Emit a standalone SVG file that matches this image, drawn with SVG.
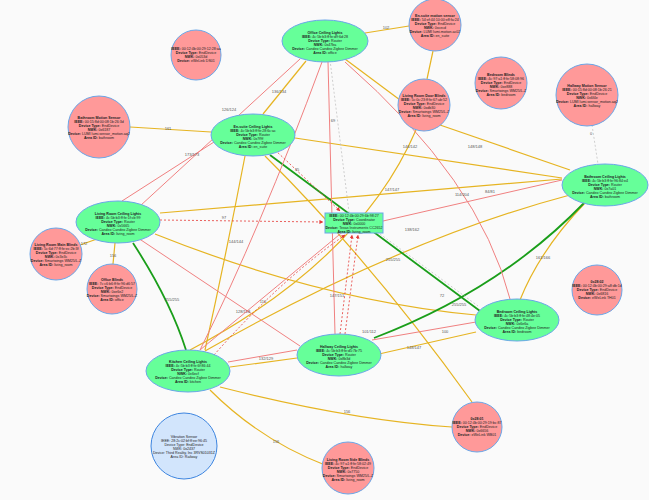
<svg xmlns="http://www.w3.org/2000/svg" width="649" height="500" viewBox="0 0 649 500">
<defs>
<marker id="ar" viewBox="0 0 10 10" refX="9" refY="5" markerWidth="5" markerHeight="5" orient="auto"><path d="M0,0L10,5L0,10z" fill="#e53935"/></marker>
<style>
text{font-family:"Liberation Sans",Arial,sans-serif;font-size:3.6px;fill:#222;text-anchor:middle}
.b{font-weight:bold}
.r ellipse,.r rect{fill:#66ff99;stroke:#6aa6e8;stroke-width:1}
.e circle{fill:#ff9999;stroke:#6aa6e8;stroke-width:1}
.v circle{fill:#d2e5fc;stroke:#3d85e0;stroke-width:1}
.y{stroke:#e6b422;stroke-width:1.2;fill:none}
.g{stroke:#1a9e1a;stroke-width:1.8;fill:none}
.p{stroke:#f08080;stroke-width:1;fill:none}
.d{stroke:#e53935;stroke-width:0.8;stroke-dasharray:2,2;fill:none;marker-end:url(#ar)}
.s{stroke:#bbb;stroke-width:0.7;stroke-dasharray:2,2;fill:none}
.l{font-size:4px;fill:#555}
</style>
</defs>
<rect width="649" height="500" fill="#fafafa"/>
<g id="connectors">
<path class="y" d="M365,33 L409,26"/><text class="l" x="386" y="29">102</text>
<path class="y" d="M306,61 L263,114"/><text class="l" x="279" y="93">136/134</text>
<path class="y" d="M345,59 L400,100"/>
<path class="y" d="M433,51 L427,79"/>
<path class="y" d="M440,125 L570,170"/><text class="l" x="475" y="148">148/148</text>
<path class="y" d="M416,130 Q360,260 190,350"/>
<path class="y" d="M130,127 L211,132"/><text class="l" x="168" y="130">161</text>
<path class="y" d="M295,138 L562,178"/><text class="l" x="410" y="148">146/142</text>
<path class="y" d="M160,213 L562,179"/><text class="l" x="392" y="191">147/147</text>
<path class="y" d="M155,234 Q320,300 476,315"/>
<path class="y" d="M97,239 L80,245"/><text class="l" x="84" y="245">172</text>
<path class="y" d="M115,243 L113,264"/><text class="l" x="113" y="257">156</text>
<path class="y" d="M245,156 Q225,260 205,350"/><text class="l" x="236" y="243">144/144</text>
<path class="y" d="M265,156 Q370,260 472,402"/><text class="l" x="445" y="333">100</text>
<path class="y" d="M205,351 Q400,240 570,195"/><text class="l" x="412" y="231">138/162</text>
<path class="y" d="M230,367 L297,358"/><text class="l" x="266" y="360">132/129</text>
<path class="y" d="M220,387 Q350,420 452,427"/><text class="l" x="347" y="413">156</text>
<path class="y" d="M210,390 Q260,440 325,465"/><text class="l" x="276" y="443">156</text>
<path class="y" d="M379,354 L476,332"/><text class="l" x="414" y="349">148/147</text>
<path class="y" d="M520,300 Q540,250 585,203"/><text class="l" x="543" y="259">161/166</text>
<path class="s" d="M592,125 L598,164"/><text class="l" x="591" y="135">0</text>
<path class="g" d="M270,155 L480,311"/><text class="l" x="393" y="261">255/255</text>
<path class="g" d="M133,243 Q170,300 186,350"/><text class="l" x="172" y="301">255/255</text>
<path class="g" d="M374,338 Q500,290 584,203"/><text class="l" x="459" y="306">255/255</text>
<path class="p" d="M300,59 L140,206"/><text class="l" x="229" y="111">126/124</text>
<path class="p" d="M322,62 Q260,230 200,350"/>
<path class="p" d="M345,62 Q480,180 510,299"/><text class="l" x="462" y="196">114/204</text>
<path class="p" d="M328,62 L335,334"/><text class="l" x="333" y="122">69</text>
<path class="p" d="M214,142 L122,201"/><text class="l" x="192" y="156">173/173</text>
<path class="p" d="M138,238 L300,346"/><text class="l" x="243" y="313">128/128</text>
<path class="p" d="M383,221 L562,180"/><text class="l" x="490" y="193">84/81</text>
<path class="p" d="M228,362 L297,350"/>
<path class="p" d="M372,340 L476,322"/><text class="l" x="369" y="333">101/112</text>
<path class="p" d="M200,350 L345,230"/><text class="l" x="263" y="303">116</text>
<path class="d" d="M160,220 L323,222"/><text class="l" x="224" y="219">97</text>
<path class="d" d="M275,150 L340,211"/><text class="l" x="297" y="171">35</text>
<path class="d" d="M214,355 Q280,280 345,235"/>
<path class="d" d="M340,334 L352,235"/>
<path class="d" d="M345,334 L358,235"/><text class="l" x="337" y="297">147/151</text>
<path class="s" d="M330,60 L349,212"/>
<path class="s" d="M380,234 L478,306"/><text class="l" x="442" y="297">72</text>
</g>
<g id="n1" class="r"><ellipse cx="325" cy="41" rx="43" ry="21"/><text class="b" x="325" y="34">Office Ceiling Lights</text><text x="325" y="38"><tspan class="b">IEEE:</tspan> 4c:5b:b3:ff:fe:d9:6d:28</text><text x="325" y="42"><tspan class="b">Device Type:</tspan> Router</text><text x="325" y="46"><tspan class="b">NWK:</tspan> 0x47ba</text><text x="325" y="50"><tspan class="b">Device:</tspan> Candeo Candeo Zigbee Dimmer</text><text x="325" y="54"><tspan class="b">Area ID:</tspan> office</text></g>
<g id="n2" class="r"><ellipse cx="253" cy="135" rx="42" ry="21"/><text class="b" x="253" y="128">En-suite Ceiling Lights</text><text x="253" y="132"><tspan class="b">IEEE:</tspan> 4c:5b:b3:ff:fe:28:6c:ac</text><text x="253" y="136"><tspan class="b">Device Type:</tspan> Router</text><text x="253" y="140"><tspan class="b">NWK:</tspan> 0x7f9f</text><text x="253" y="144"><tspan class="b">Device:</tspan> Candeo Candeo Zigbee Dimmer</text><text x="253" y="148"><tspan class="b">Area ID:</tspan> en_suite</text></g>
<g id="n3" class="r"><ellipse cx="118" cy="222" rx="42" ry="21"/><text class="b" x="118" y="215">Living Room Ceiling Lights</text><text x="118" y="219"><tspan class="b">IEEE:</tspan> 4c:5b:b3:ff:fe:1f:cb:99</text><text x="118" y="223"><tspan class="b">Device Type:</tspan> Router</text><text x="118" y="227"><tspan class="b">NWK:</tspan> 0x5665</text><text x="118" y="231"><tspan class="b">Device:</tspan> Candeo Candeo Zigbee Dimmer</text><text x="118" y="235"><tspan class="b">Area ID:</tspan> living_room</text></g>
<g id="n4" class="r"><ellipse cx="605" cy="185" rx="43" ry="21"/><text class="b" x="605" y="178">Bathroom Ceiling Lights</text><text x="605" y="182"><tspan class="b">IEEE:</tspan> 4c:5b:b3:ff:fe:96:84:e4</text><text x="605" y="186"><tspan class="b">Device Type:</tspan> Router</text><text x="605" y="190"><tspan class="b">NWK:</tspan> 0x7a01</text><text x="605" y="194"><tspan class="b">Device:</tspan> Candeo Candeo Zigbee Dimmer</text><text x="605" y="198"><tspan class="b">Area ID:</tspan> bathroom</text></g>
<g id="n5" class="r"><ellipse cx="517" cy="320" rx="42" ry="21"/><text class="b" x="517" y="313">Bedroom Ceiling Lights</text><text x="517" y="317"><tspan class="b">IEEE:</tspan> 4c:5b:b3:ff:fe:48:4e:05</text><text x="517" y="321"><tspan class="b">Device Type:</tspan> Router</text><text x="517" y="325"><tspan class="b">NWK:</tspan> 0x6e6a</text><text x="517" y="329"><tspan class="b">Device:</tspan> Candeo Candeo Zigbee Dimmer</text><text x="517" y="333"><tspan class="b">Area ID:</tspan> bedroom</text></g>
<g id="n6" class="r"><ellipse cx="188" cy="371" rx="42" ry="21"/><text class="b" x="188" y="363">Kitchen Ceiling Lights</text><text x="188" y="367"><tspan class="b">IEEE:</tspan> 4c:5b:b3:ff:fe:6f:86:44</text><text x="188" y="371"><tspan class="b">Device Type:</tspan> Router</text><text x="188" y="375"><tspan class="b">NWK:</tspan> 0x6ecf</text><text x="188" y="379"><tspan class="b">Device:</tspan> Candeo Candeo Zigbee Dimmer</text><text x="188" y="383"><tspan class="b">Area ID:</tspan> kitchen</text></g>
<g id="n7" class="r"><ellipse cx="339" cy="355" rx="42" ry="21"/><text class="b" x="339" y="348">Hallway Ceiling Lights</text><text x="339" y="352"><tspan class="b">IEEE:</tspan> 4c:5b:b3:ff:fe:d5:7b:75</text><text x="339" y="356"><tspan class="b">Device Type:</tspan> Router</text><text x="339" y="360"><tspan class="b">NWK:</tspan> 0x8b3d</text><text x="339" y="364"><tspan class="b">Device:</tspan> Candeo Candeo Zigbee Dimmer</text><text x="339" y="368"><tspan class="b">Area ID:</tspan> hallway</text></g>
<g id="coord" class="r"><rect x="325" y="213" width="58" height="20"/><text x="354" y="217"><tspan class="b">IEEE:</tspan> 00:12:4b:00:29:6b:98:27</text><text x="354" y="221"><tspan class="b">Device Type:</tspan> Coordinator</text><text x="354" y="225"><tspan class="b">NWK:</tspan> 0x0000</text><text x="354" y="229"><tspan class="b">Device:</tspan> Texas Instruments CC2652</text><text x="354" y="233"><tspan class="b">Area ID:</tspan> living_room</text></g>
<g id="e1" class="e"><circle cx="196" cy="55" r="25"/><text x="196" y="50"><tspan class="b">IEEE:</tspan> 00:12:4b:00:29:12:28:aa</text><text x="196" y="54"><tspan class="b">Device Type:</tspan> EndDevice</text><text x="196" y="58"><tspan class="b">NWK:</tspan> 0x053d</text><text x="196" y="62"><tspan class="b">Device:</tspan> eWeLink DS01</text></g>
<g id="e2" class="e"><circle cx="99" cy="127" r="31"/><text class="b" x="99" y="119">Bathroom Motion Sensor</text><text x="99" y="123"><tspan class="b">IEEE:</tspan> 00:15:8d:00:08:1b:26:3d</text><text x="99" y="127"><tspan class="b">Device Type:</tspan> EndDevice</text><text x="99" y="131"><tspan class="b">NWK:</tspan> 0x6187</text><text x="99" y="135"><tspan class="b">Device:</tspan> LUMI lumi.sensor_motion.aq2</text><text x="99" y="139"><tspan class="b">Area ID:</tspan> bathroom</text></g>
<g id="e3" class="e"><circle cx="435" cy="25" r="26"/><text class="b" x="435" y="17">En-suite motion sensor</text><text x="435" y="21"><tspan class="b">IEEE:</tspan> 54:ef:44:10:00:e8:fa:24</text><text x="435" y="25"><tspan class="b">Device Type:</tspan> EndDevice</text><text x="435" y="29"><tspan class="b">NWK:</tspan> 0xcecd</text><text x="435" y="33"><tspan class="b">Device:</tspan> LUMI lumi.motion.ac02</text><text x="435" y="37"><tspan class="b">Area ID:</tspan> en_suite</text></g>
<g id="e4" class="e"><circle cx="424" cy="105" r="26"/><text class="b" x="424" y="97">Living Room Door Blinds</text><text x="424" y="101"><tspan class="b">IEEE:</tspan> 5c:0c:23:ff:fe:67:ab:52</text><text x="424" y="105"><tspan class="b">Device Type:</tspan> EndDevice</text><text x="424" y="109"><tspan class="b">NWK:</tspan> 0xdb30</text><text x="424" y="113"><tspan class="b">Device:</tspan> Smartwings WM25/L-Z</text><text x="424" y="117"><tspan class="b">Area ID:</tspan> living_room</text></g>
<g id="e5" class="e"><circle cx="501" cy="83" r="26"/><text class="b" x="501" y="76">Bedroom Blinds</text><text x="501" y="80"><tspan class="b">IEEE:</tspan> 4c:97:a1:ff:fe:58:08:96</text><text x="501" y="84"><tspan class="b">Device Type:</tspan> EndDevice</text><text x="501" y="88"><tspan class="b">NWK:</tspan> 0xe888</text><text x="501" y="92"><tspan class="b">Device:</tspan> Smartwings WM25/L-Z</text><text x="501" y="96"><tspan class="b">Area ID:</tspan> bedroom</text></g>
<g id="e6" class="e"><circle cx="587" cy="95" r="31"/><text class="b" x="587" y="87">Hallway Motion Sensor</text><text x="587" y="91"><tspan class="b">IEEE:</tspan> 00:15:8d:00:08:1b:26:21</text><text x="587" y="95"><tspan class="b">Device Type:</tspan> EndDevice</text><text x="587" y="99"><tspan class="b">NWK:</tspan> 0x6f4e</text><text x="587" y="103"><tspan class="b">Device:</tspan> LUMI lumi.sensor_motion.aq2</text><text x="587" y="107"><tspan class="b">Area ID:</tspan> hallway</text></g>
<g id="e7" class="e"><circle cx="56" cy="254" r="26"/><text class="b" x="56" y="246">Living Room Main Blinds</text><text x="56" y="250"><tspan class="b">IEEE:</tspan> 5c:6d:77:ff:fe:ec:2b:3f</text><text x="56" y="254"><tspan class="b">Device Type:</tspan> EndDevice</text><text x="56" y="258"><tspan class="b">NWK:</tspan> 0x3e3c</text><text x="56" y="262"><tspan class="b">Device:</tspan> Smartwings WM25/L-Z</text><text x="56" y="266"><tspan class="b">Area ID:</tspan> living_room</text></g>
<g id="e8" class="e"><circle cx="112" cy="289" r="25"/><text class="b" x="112" y="281">Office Blinds</text><text x="112" y="285"><tspan class="b">IEEE:</tspan> 7c:c6:b6:ff:fe:96:d6:57</text><text x="112" y="289"><tspan class="b">Device Type:</tspan> EndDevice</text><text x="112" y="293"><tspan class="b">NWK:</tspan> 0xe6e2</text><text x="112" y="297"><tspan class="b">Device:</tspan> Smartwings WM25/L-Z</text><text x="112" y="301"><tspan class="b">Area ID:</tspan> office</text></g>
<g id="e9" class="e"><circle cx="597" cy="290" r="25"/><text class="b" x="597" y="283">0x28:02</text><text x="597" y="287"><tspan class="b">IEEE:</tspan> 00:12:4b:00:29:a8:db:1d</text><text x="597" y="291"><tspan class="b">Device Type:</tspan> EndDevice</text><text x="597" y="295"><tspan class="b">NWK:</tspan> 0x6816</text><text x="597" y="299"><tspan class="b">Device:</tspan> eWeLink TH01</text></g>
<g id="e10" class="e"><circle cx="477" cy="427" r="25"/><text class="b" x="477" y="420">0x28:01</text><text x="477" y="424"><tspan class="b">IEEE:</tspan> 00:12:4b:00:29:19:bc:87</text><text x="477" y="428"><tspan class="b">Device Type:</tspan> EndDevice</text><text x="477" y="432"><tspan class="b">NWK:</tspan> 0x6656</text><text x="477" y="436"><tspan class="b">Device:</tspan> eWeLink WB01</text></g>
<g id="e11" class="e"><circle cx="348" cy="468" r="26"/><text class="b" x="348" y="461">Living Room Side Blinds</text><text x="348" y="465"><tspan class="b">IEEE:</tspan> 4c:97:a1:ff:fe:58:02:49</text><text x="348" y="469"><tspan class="b">Device Type:</tspan> EndDevice</text><text x="348" y="473"><tspan class="b">NWK:</tspan> 0x7750</text><text x="348" y="477"><tspan class="b">Device:</tspan> Smartwings WM25/L-Z</text><text x="348" y="481"><tspan class="b">Area ID:</tspan> living_room</text></g>
<g id="e12" class="v"><circle cx="184" cy="446" r="33"/><text x="184" y="438">Vibration Sensor</text><text x="184" y="442">IEEE: 28:2c:02:bf:ff:ee:96:45</text><text x="184" y="446">Device Type: EndDevice</text><text x="184" y="450">NWK: 0x2437</text><text x="184" y="454">Device: Third Reality, Inc 3RVS01031Z</text><text x="184" y="458">Area ID: Railway</text></g>
</svg>
